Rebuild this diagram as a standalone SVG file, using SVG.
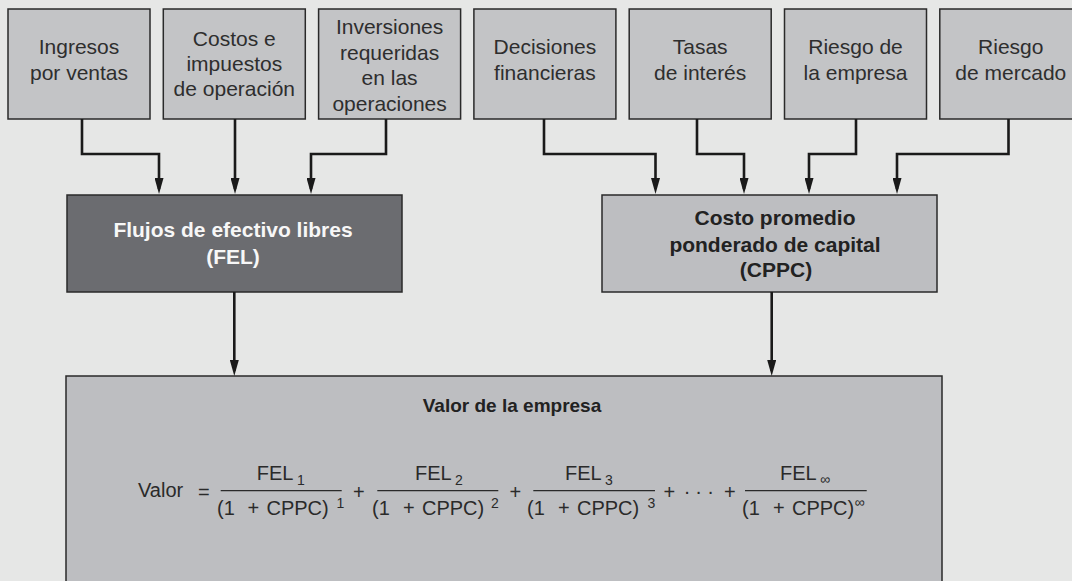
<svg xmlns="http://www.w3.org/2000/svg" width="1072" height="581" viewBox="0 0 1072 581">
<defs>
<style>
.bg{fill:#e6e7e6}
.box{fill:#c3c4c6;stroke:#2a2a2a;stroke-width:1.5}
.dark{fill:#6b6c70;stroke:#2a2a2a;stroke-width:1.5}
.mid{fill:#bdbec1;stroke:#2a2a2a;stroke-width:1.5}
.t{font-family:"Liberation Sans",Arial,sans-serif;font-size:21px;fill:#2e2e2e;text-anchor:middle}
.b{font-family:"Liberation Sans",Arial,sans-serif;font-size:21px;font-weight:bold;text-anchor:middle}
.f{font-family:"Liberation Sans",Arial,sans-serif;font-size:20px;fill:#2a2a2a}
.s{font-family:"Liberation Sans",Arial,sans-serif;font-size:14px;fill:#2a2a2a}
.c{fill:none;stroke:#1a1a1a;stroke-width:2.6;marker-end:url(#ah)}
.fl{stroke:#2a2a2a;stroke-width:1.3}
</style>
<marker id="ah" viewBox="0 0 16 9" markerWidth="16" markerHeight="9" refX="11" refY="4.5" orient="auto" markerUnits="userSpaceOnUse">
<path d="M0,0 L16,4.5 L0,9 z" fill="#1a1a1a"/>
</marker>
</defs>
<rect class="bg" x="0" y="0" width="1072" height="581"/>

<g id="n-ingresos"><rect class="box" x="8" y="9" width="142" height="110"/>
<text class="t"><tspan x="79" y="54">Ingresos</tspan><tspan x="79" y="79.5">por ventas</tspan></text></g>
<g id="n-costos"><rect class="box" x="163.3" y="9" width="142" height="110"/>
<text class="t"><tspan x="234.3" y="46">Costos e</tspan><tspan x="234.3" y="71">impuestos</tspan><tspan x="234.3" y="96">de operación</tspan></text></g>
<g id="n-inversiones"><rect class="box" x="318.6" y="9" width="142" height="110"/>
<text class="t"><tspan x="389.6" y="34">Inversiones</tspan><tspan x="389.6" y="59.5">requeridas</tspan><tspan x="389.6" y="85">en las</tspan><tspan x="389.6" y="110.5">operaciones</tspan></text></g>
<g id="n-decisiones"><rect class="box" x="473.9" y="9" width="142" height="110"/>
<text class="t"><tspan x="544.9" y="54">Decisiones</tspan><tspan x="544.9" y="79.5">financieras</tspan></text></g>
<g id="n-tasas"><rect class="box" x="629.2" y="9" width="142" height="110"/>
<text class="t"><tspan x="700.2" y="54">Tasas</tspan><tspan x="700.2" y="79.5">de interés</tspan></text></g>
<g id="n-riesgo-empresa"><rect class="box" x="784.5" y="9" width="142" height="110"/>
<text class="t"><tspan x="855.5" y="54">Riesgo de</tspan><tspan x="855.5" y="79.5">la empresa</tspan></text></g>
<g id="n-riesgo-mercado"><rect class="box" x="939.8" y="9" width="142" height="110"/>
<text class="t"><tspan x="1010.8" y="54">Riesgo</tspan><tspan x="1010.8" y="79.5">de mercado</tspan></text></g>

<g id="n-fel"><rect class="dark" x="67" y="195" width="335" height="97"/>
<text class="b" fill="#f7f7f7"><tspan x="233" y="236.5">Flujos de efectivo libres</tspan><tspan x="233" y="264">(FEL)</tspan></text></g>

<g id="n-cppc"><rect class="mid" x="602" y="195" width="335" height="97"/>
<text class="b" fill="#222"><tspan x="775" y="225">Costo promedio</tspan><tspan x="775" y="251.5">ponderado de capital</tspan><tspan x="776" y="277">(CPPC)</tspan></text></g>

<g id="n-valor"><rect class="mid" x="66" y="376" width="876" height="230"/>
<text font-family="'Liberation Sans',Arial,sans-serif" font-size="19" font-weight="bold" fill="#222" text-anchor="middle" x="512" y="411.5">Valor de la empresa</text>
<text class="f" x="138" y="497">Valor</text>
<text class="f" x="198" y="498.5">=</text>
<line class="fl" x1="220.7" y1="490.7" x2="341.7" y2="490.7"/>
<text class="f" x="256.7" y="480">FEL</text><text class="s" x="297" y="485">1</text>
<text class="f" y="515"><tspan x="217">(1</tspan><tspan x="247.5">+</tspan><tspan x="266.5">CPPC)</tspan></text><text class="s" x="336.5" y="507.5">1</text>
<text class="f" x="353" y="498.5">+</text>
<line class="fl" x1="377.3" y1="490.7" x2="498.3" y2="490.7"/>
<text class="f" x="415" y="480">FEL</text><text class="s" x="455" y="485">2</text>
<text class="f" y="515"><tspan x="372">(1</tspan><tspan x="403">+</tspan><tspan x="422">CPPC)</tspan></text><text class="s" x="491" y="507.5">2</text>
<text class="f" x="509.5" y="498.5">+</text>
<line class="fl" x1="533.3" y1="490.7" x2="655" y2="490.7"/>
<text class="f" x="565" y="480">FEL</text><text class="s" x="605" y="485">3</text>
<text class="f" y="515"><tspan x="527">(1</tspan><tspan x="558">+</tspan><tspan x="577">CPPC)</tspan></text><text class="s" x="647.5" y="507.5">3</text>
<text class="f" x="663.5" y="498.5">+</text>
<text class="f" text-anchor="middle" y="498"><tspan x="687">·</tspan><tspan x="698.5">·</tspan><tspan x="710.5">·</tspan></text>
<text class="f" x="724" y="498.5">+</text>
<line class="fl" x1="745" y1="490.7" x2="866.7" y2="490.7"/>
<text class="f" x="780" y="480">FEL</text><text class="s" x="820" y="484" font-size="16">∞</text>
<text class="f" y="515"><tspan x="742">(1</tspan><tspan x="773">+</tspan><tspan x="792">CPPC)</tspan></text><text class="s" x="854.5" y="506.5" font-size="12">∞</text>
</g>

<g id="connectors">
<path class="c" d="M82,119 V154 H159 V189"/>
<path class="c" d="M235,119 V189"/>
<path class="c" d="M386,119 V154 H311 V189"/>
<path class="c" d="M544,119 V154 H655.5 V189"/>
<path class="c" d="M697,119 V154 H744 V189"/>
<path class="c" d="M856,119 V154 H809 V189"/>
<path class="c" d="M1008.5,119 V154 H897 V189"/>
<path class="c" d="M234.3,292 V371"/>
<path class="c" d="M771.7,292 V371"/>
</g>
</svg>
